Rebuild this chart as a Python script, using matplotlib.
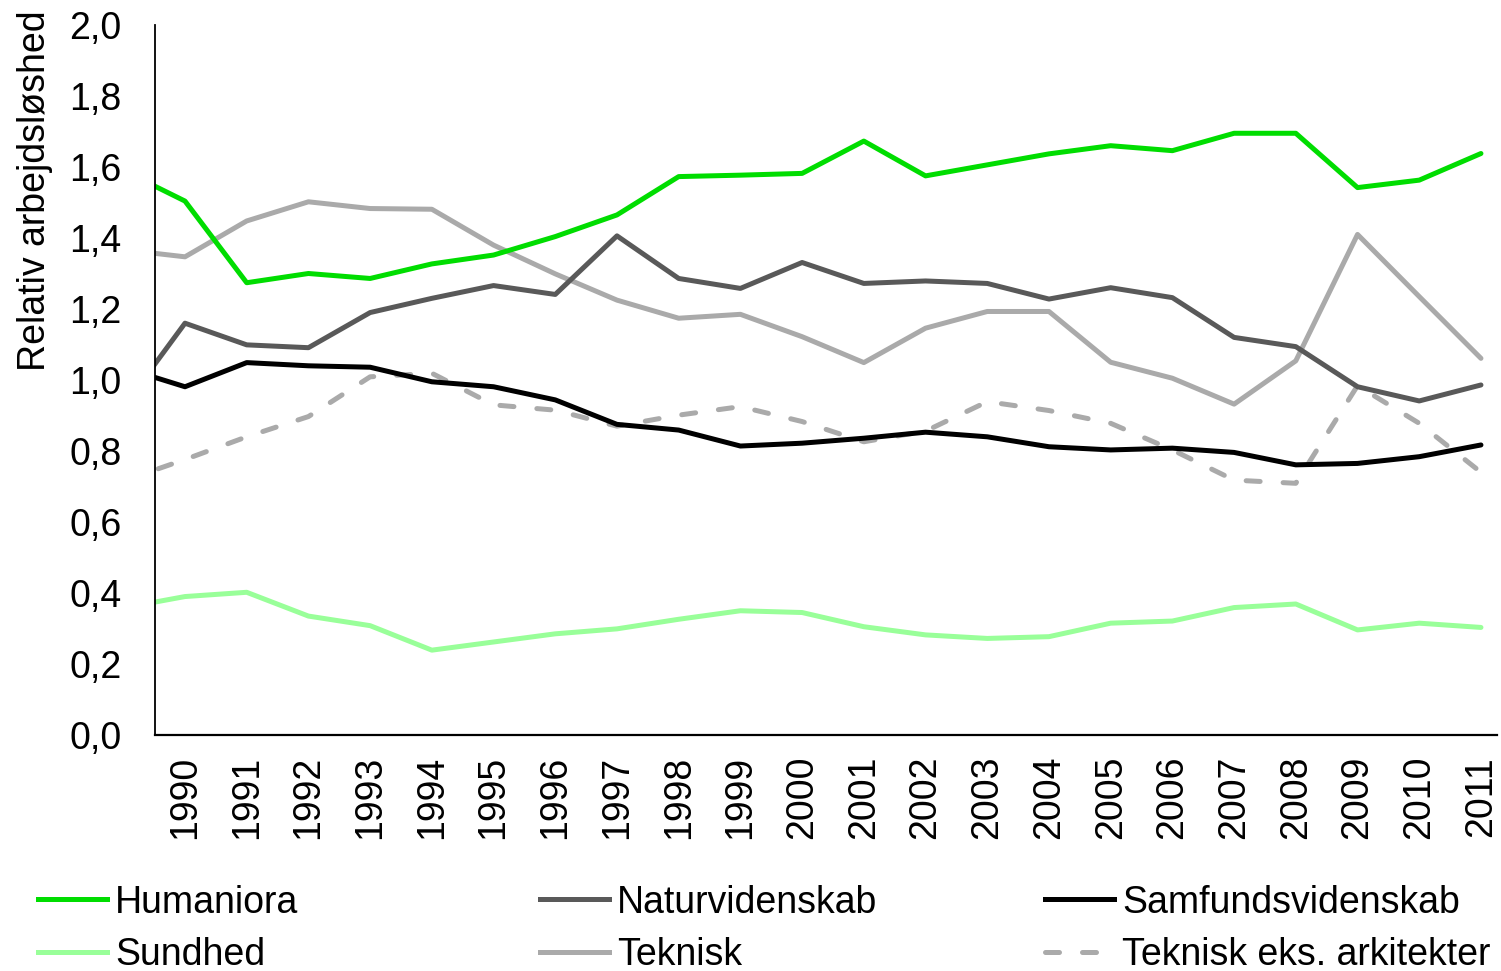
import matplotlib
matplotlib.use("Agg")
import matplotlib.pyplot as plt
from matplotlib.lines import Line2D

plt.rcParams['font.family'] = ['Liberation Sans', 'DejaVu Sans']

years = list(range(1989, 2012))
tick_years = list(range(1990, 2012))

humaniora = [1.59, 1.504, 1.274, 1.300, 1.286, 1.327, 1.352, 1.404, 1.465, 1.573, 1.577,
             1.582, 1.673, 1.575, 1.606, 1.637, 1.660, 1.646, 1.695, 1.695, 1.542, 1.563, 1.638]
naturvidenskab = [0.924, 1.160, 1.099, 1.091, 1.190, 1.230, 1.266, 1.241, 1.406, 1.286, 1.258,
                  1.331, 1.272, 1.279, 1.272, 1.228, 1.260, 1.232, 1.120, 1.094, 0.981, 0.941, 0.986]
samfund = [1.035, 0.981, 1.049, 1.040, 1.036, 0.995, 0.981, 0.944, 0.875, 0.859, 0.814,
           0.822, 0.836, 0.853, 0.840, 0.812, 0.803, 0.808, 0.796, 0.761, 0.765, 0.784, 0.817]
sundhed = [0.358, 0.390, 0.402, 0.335, 0.308, 0.239, 0.262, 0.285, 0.299, 0.326, 0.350,
           0.345, 0.305, 0.282, 0.272, 0.277, 0.315, 0.321, 0.359, 0.369, 0.296, 0.315, 0.303]
teknisk = [1.367, 1.347, 1.448, 1.502, 1.483, 1.481, 1.380, 1.299, 1.225, 1.174, 1.185,
           1.122, 1.049, 1.146, 1.193, 1.193, 1.050, 1.005, 0.932, 1.054, 1.410, 1.235, 1.061]
teknisk_eks = [0.716, 0.776, 0.840, 0.897, 1.009, 1.019, 0.930, 0.915, 0.870, 0.901, 0.925,
               0.883, 0.826, 0.856, 0.939, 0.914, 0.878, 0.803, 0.718, 0.709, 0.984, 0.878, 0.740]

series_names = ["Humaniora", "Naturvidenskab", "Samfundsvidenskab",
                "Sundhed", "Teknisk", "Teknisk eks. arkitekter"]
y_ticks = [0.0, 0.2, 0.4, 0.6, 0.8, 1.0, 1.2, 1.4, 1.6, 1.8, 2.0]

FS = 27

fig = plt.figure(figsize=(15.01, 9.71), dpi=100)
ax = fig.add_axes([155/1501, 1-735/971, 1342/1501, 710/971])

lw = 3.6
styles = {
    "Humaniora": dict(color="#00DD00", lw=lw),
    "Naturvidenskab": dict(color="#595959", lw=lw),
    "Samfundsvidenskab": dict(color="#000000", lw=lw),
    "Sundhed": dict(color="#99FF99", lw=lw),
    "Teknisk": dict(color="#AAAAAA", lw=lw),
    "Teknisk eks. arkitekter": dict(color="#AAAAAA", lw=lw, ls=(0, (2.8, 4.6)),
                                    dash_capstyle="round"),
}
data = {
    "Humaniora": humaniora,
    "Naturvidenskab": naturvidenskab,
    "Samfundsvidenskab": samfund,
    "Sundhed": sundhed,
    "Teknisk": teknisk,
    "Teknisk eks. arkitekter": teknisk_eks,
}
draw_order = ["Sundhed", "Teknisk eks. arkitekter", "Teknisk", "Samfundsvidenskab",
              "Naturvidenskab", "Humaniora"]
for name in draw_order:
    ax.plot(years, data[name], solid_capstyle="round", solid_joinstyle="round", **styles[name])

ax.set_xlim(1989.514, 2011.26)
ax.set_ylim(0, 2.0)
ax.set_yticks(y_ticks)
ax.set_yticklabels([f"{v:.1f}".replace(".", ",") for v in y_ticks], fontsize=FS)
ax.set_xticks(tick_years)
ax.set_xticklabels([str(y) for y in tick_years], rotation=90, fontsize=FS)
ax.tick_params(axis="y", length=0, pad=24)
ax.tick_params(axis="x", length=0, pad=15)
for s in ["top", "right"]:
    ax.spines[s].set_visible(False)
ax.spines["left"].set_color("#000000")
ax.spines["bottom"].set_color("#000000")
ax.spines["left"].set_linewidth(1.3)
ax.spines["bottom"].set_linewidth(1.6)

fig.text(0.0235, 1-10/971, "Relativ arbejdsløshed", rotation=90, va="top", ha="center", fontsize=FS)

columns = [["Humaniora", "Sundhed"], ["Naturvidenskab", "Teknisk"],
           ["Samfundsvidenskab", "Teknisk eks. arkitekter"]]
col_x = [38/1501, 540/1501, 1045/1501]
for cx, col in zip(col_x, columns):
    handles = []
    for name in col:
        st = dict(styles[name])
        handles.append(Line2D([], [], **st))
    leg = fig.legend(handles, col, loc="center left", bbox_to_anchor=(cx, 1-929/971),
                     frameon=False, fontsize=FS, handlelength=1.85, handletextpad=0.2,
                     labelspacing=0.45, borderpad=0, borderaxespad=0)

fig.savefig("out.png", dpi=100)
